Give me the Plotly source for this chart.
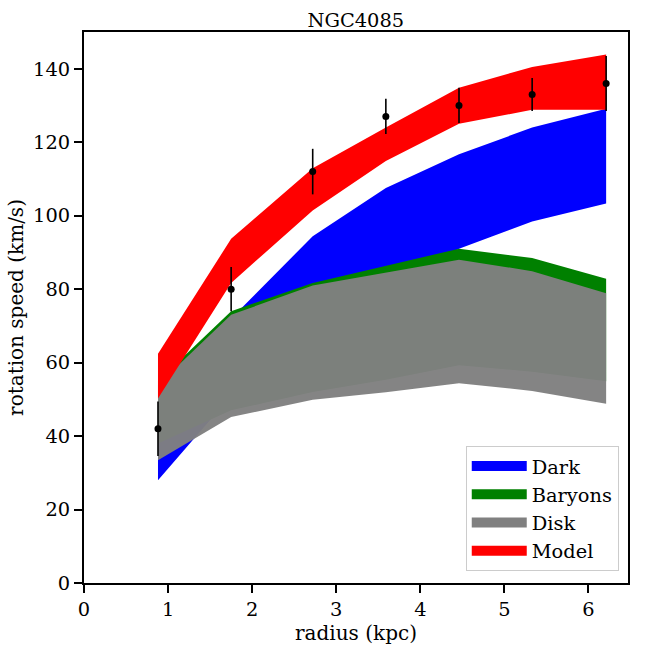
#!/usr/bin/env python3

import plotly.graph_objects as go

# radii of the measured points (kpc)
radius = [0.88, 1.75, 2.72, 3.59, 4.46, 5.33, 6.21]

# observed rotation speed and its error (km/s)
v_obs = [42, 80, 112, 127, 130, 133, 136]
v_err = [7.4, 6, 6.2, 4.8, 4.8, 4.5, 7.5]

# bands: lower and upper edges (km/s)
dark_lo = [28, 51, 70, 81, 91, 98.4, 103.3]
dark_hi = [40, 72, 94.4, 107.5, 116.7, 124, 129.1]
bary_lo = [38, 47, 52, 55.3, 59.3, 57.5, 54.9]
bary_hi = [55, 74, 81.7, 86.4, 91, 88.5, 82.8]
disk_lo = [33.4, 45.2, 49.9, 51.9, 54.4, 52.3, 48.8]
disk_hi = [54, 73, 81, 84.4, 88, 84.9, 78.9]
model_lo = [50.2, 81.7, 101.4, 114.9, 125, 128.8, 128.8]
model_hi = [62.4, 93.7, 112.9, 124, 134.8, 140.5, 143.9]

FONT = 'DejaVu Serif'
FS = 19.4

fig = go.Figure()

def band(name, lo, hi, color, opacity = 1.0):
  #closed polygon: upper edge out, lower edge back
  fig.add_trace(go.Scatter(x = radius + radius[::-1], y = hi + lo[::-1],
                           fill = 'toself', fillcolor = color, opacity = opacity,
                           mode = 'lines', line = dict(width = 0, color = color),
                           name = name, legendgroup = name, showlegend = False,
                           hoverinfo = 'skip'))
  #legend-only entry, a fat line looks more like the matplotlib patch
  fig.add_trace(go.Scatter(x = [None], y = [None], mode = 'lines',
                           line = dict(width = 14, color = color),
                           name = name, legendgroup = name))

band('Dark', dark_lo, dark_hi, 'blue')
band('Baryons', bary_lo, bary_hi, 'green')
band('Disk', disk_lo, disk_hi, 'grey', 0.97)
band('Model', model_lo, model_hi, 'red')

fig.add_trace(go.Scatter(x = radius, y = v_obs, mode = 'markers',
                         marker = dict(color = 'black', size = 7),
                         error_y = dict(type = 'data', array = v_err, color = 'black',
                                        thickness = 1.6, width = 0),
                         showlegend = False))

axis = dict(showline = True, linecolor = 'black', linewidth = 2, mirror = True,
            ticks = 'outside', ticklen = 8, tickwidth = 1.6, tickcolor = 'black',
            showgrid = False, zeroline = False,
            tickfont = dict(family = FONT, size = FS, color = 'black'))

fig.update_layout(
  width = 648, height = 648,
  margin = dict(l = 84, r = 20, t = 32, b = 65),
  plot_bgcolor = 'white', paper_bgcolor = 'white',
  title = dict(text = 'NGC4085', x = 0.549, xanchor = 'center', y = 0.969, yanchor = 'middle',
               font = dict(family = FONT, size = FS, color = 'black')),
  xaxis = dict(axis, range = [0, 6.47], dtick = 1,
               title = dict(text = 'radius (kpc)', standoff = 2,
                            font = dict(family = FONT, size = 20, color = 'black'))),
  yaxis = dict(axis, range = [0, 150], dtick = 20,
               title = dict(text = 'rotation speed (km/s)', standoff = 4,
                            font = dict(family = FONT, size = 20, color = 'black'))),
  legend = dict(x = 0.983, y = 0.022, xanchor = 'right', yanchor = 'bottom',
                bgcolor = 'rgba(255,255,255,0.8)', bordercolor = '#cccccc', borderwidth = 1,
                font = dict(family = FONT, size = FS, color = 'black'),
                itemwidth = 55, tracegroupgap = 0),
)

#drop the page's default body margin so the figure sits at the window origin
fig.write_html('out.html', config = {'displayModeBar': False},
               post_script = "document.body.style.margin = '0';")
